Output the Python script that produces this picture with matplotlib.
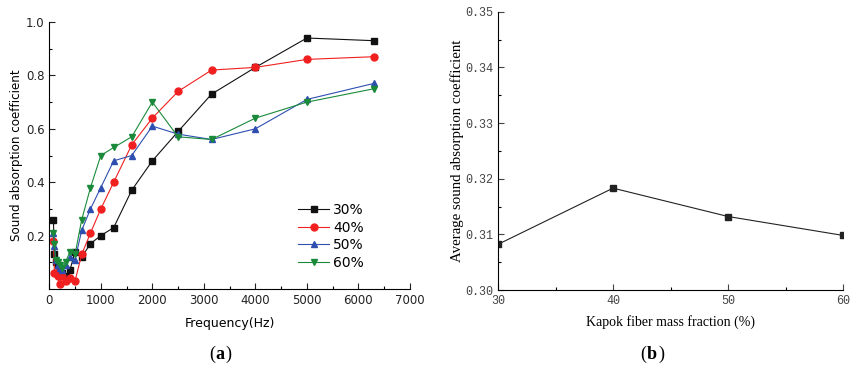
import matplotlib.pyplot as plt
from matplotlib.ticker import FixedLocator, MultipleLocator, FormatStrFormatter

# one-third octave band centres (Hz)
freq = [80, 100, 125, 160, 200, 250, 315, 400, 500, 630, 800, 1000,
        1250, 1600, 2000, 2500, 3150, 4000, 5000, 6300]

alpha_30 = [0.26, 0.13, 0.10, 0.09, 0.08, 0.06, 0.05, 0.07, 0.14, 0.12, 0.17, 0.20,
            0.23, 0.37, 0.48, 0.59, 0.73, 0.83, 0.94, 0.93]
alpha_40 = [0.18, 0.06, 0.06, 0.05, 0.02, 0.05, 0.03, 0.04, 0.03, 0.13, 0.21, 0.30,
            0.40, 0.54, 0.64, 0.74, 0.82, 0.83, 0.86, 0.87]
alpha_50 = [0.21, 0.16, 0.11, 0.09, 0.08, 0.07, 0.09, 0.12, 0.11, 0.22, 0.30, 0.38,
            0.48, 0.50, 0.61, 0.58, 0.56, 0.60, 0.71, 0.77]
alpha_60 = [0.21, 0.17, 0.11, 0.10, 0.09, 0.08, 0.10, 0.14, 0.13, 0.26, 0.38, 0.50,
            0.53, 0.57, 0.70, 0.57, 0.56, 0.64, 0.70, 0.75]

mass_fraction = [30, 40, 50, 60]
avg_alpha = [0.3082, 0.3183, 0.3132, 0.3098]

series = [
    ("30%", alpha_30, "#111111", "s"),
    ("40%", alpha_40, "#f02020", "o"),
    ("50%", alpha_50, "#2f4fb0", "^"),
    ("60%", alpha_60, "#1a8a3a", "v"),
]

fig = plt.figure(figsize=(8.6, 3.71), dpi=100)

# --- (a) absorption spectra ---
ax1 = fig.add_axes([0.0573, 0.221, 0.4194, 0.7197])
for label, vals, color, marker in series:
    ax1.plot(freq, vals, color=color, marker=marker, markersize=5,
             linewidth=0.8, label=label)
ax1.set_xlim(0, 7000)
ax1.set_ylim(0, 1.0)
ax1.xaxis.set_major_locator(MultipleLocator(1000))
ax1.xaxis.set_minor_locator(MultipleLocator(500))
ax1.yaxis.set_major_locator(FixedLocator([0.2, 0.4, 0.6, 0.8, 1.0]))
ax1.yaxis.set_minor_locator(FixedLocator([0.1, 0.3, 0.5, 0.7, 0.9]))
ax1.yaxis.set_major_formatter(FormatStrFormatter("%.1f"))
for side in ("top", "right"):
    ax1.spines[side].set_visible(False)
for side in ("left", "bottom"):
    ax1.spines[side].set_linewidth(0.8)
ax1.tick_params(which="major", direction="in", length=4, width=0.8,
                labelsize=8.5, colors="#222222")
ax1.tick_params(which="minor", direction="in", length=2.5, width=0.8)
ax1.set_xlabel("Frequency(Hz)", fontsize=9, labelpad=7)
ax1.set_ylabel("Sound absorption coefficient", fontsize=8.6, labelpad=2)
ax1.legend(loc="lower right", bbox_to_anchor=(0.907, 0.026), frameon=False,
           fontsize=10, handlelength=2.2, handletextpad=0.3, labelspacing=0.25)

# --- (b) average absorption vs. mass fraction ---
serif = "Liberation Serif"
ax2 = fig.add_axes([0.579, 0.2183, 0.4016, 0.7502])
ax2.plot(mass_fraction, avg_alpha, color="#222222", marker="s", markersize=5,
         linewidth=0.8)
ax2.set_xlim(30, 60)
ax2.set_ylim(0.30, 0.35)
ax2.xaxis.set_major_locator(MultipleLocator(10))
ax2.xaxis.set_minor_locator(MultipleLocator(5))
ax2.yaxis.set_major_locator(MultipleLocator(0.01))
ax2.yaxis.set_minor_locator(MultipleLocator(0.005))
ax2.yaxis.set_major_formatter(FormatStrFormatter("%.2f"))
for side in ("top", "right"):
    ax2.spines[side].set_visible(False)
for side in ("left", "bottom"):
    ax2.spines[side].set_linewidth(0.8)
ax2.tick_params(which="major", direction="in", length=4, width=0.8,
                labelsize=8.5, colors="#444444")
ax2.tick_params(which="minor", direction="in", length=2.5, width=0.8)
for lab in ax2.get_xticklabels() + ax2.get_yticklabels():
    lab.set_family("Liberation Mono")
ax2.set_xlabel("Kapok fiber mass fraction (%)", fontsize=10, family=serif,
               labelpad=6)
ax2.set_ylabel("Average sound absorption coefficient", fontsize=10.7,
               family=serif, labelpad=1)

# panel tags
fig.text(0.25, 0.045, "(", fontsize=13, family=serif, ha="right", va="center")
fig.text(0.25, 0.045, "a", fontsize=13, family=serif, weight="bold",
         ha="left", va="center")
fig.text(0.2625, 0.045, ")", fontsize=13, family=serif, ha="left", va="center")
fig.text(0.752, 0.045, "(", fontsize=13, family=serif, ha="right", va="center")
fig.text(0.752, 0.045, "b", fontsize=13, family=serif, weight="bold",
         ha="left", va="center")
fig.text(0.7655, 0.045, ")", fontsize=13, family=serif, ha="left", va="center")

fig.savefig("out.png", dpi=100)
